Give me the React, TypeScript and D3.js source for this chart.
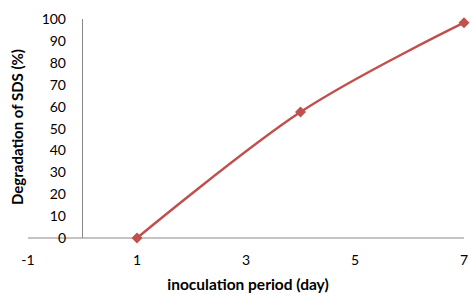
import React from "react";
import * as d3 from "d3";

const days = [1, 4, 7];
const degradation = [0, 57.5, 98.3];
const xTicks = [-1, 1, 3, 5, 7];
const yTicks = [0, 10, 20, 30, 40, 50, 60, 70, 80, 90, 100];

export default function App() {
  const W = 470, H = 294;
  const x = d3.scaleLinear().domain([-1, 7]).range([28, 464]);
  const y = d3.scaleLinear().domain([0, 100]).range([238, 19]);
  const pts: [number, number][] = days.map((d, i) => [x(d), y(degradation[i])]);
  const line = d3.line().curve(d3.curveCardinal.tension(0))(pts) || "";
  const font = "Lato, 'Open Sans', sans-serif";
  const color = "#C0504D";
  return (
    <svg width={W} height={H} style={{ position: "absolute", left: 0, top: 0, background: "#fff" }}>
      <line x1={x(0)} x2={x(0)} y1={y(100)} y2={y(0)} stroke="#888" strokeWidth={1} />
      <line x1={x(-1)} x2={x(7)} y1={y(0)} y2={y(0)} stroke="#888" strokeWidth={1} />
      {yTicks.map((t) => (
        <text key={t} x={66} y={y(t)} dy="0.36em" textAnchor="end" fontFamily={font} fontSize={14} fill="#000">
          {t}
        </text>
      ))}
      {xTicks.map((t) => (
        <text key={t} x={x(t)} y={265} textAnchor="middle" fontFamily={font} fontSize={14} fill="#000">
          {t}
        </text>
      ))}
      <text
        transform={`translate(23,127) rotate(-90)`}
        textAnchor="middle"
        fontFamily={font}
        fontSize={15}
        fontWeight="bold"
        fill="#000"
      >
        Degradation of  SDS (%)
      </text>
      <text x={248} y={290} textAnchor="middle" fontFamily={font} fontSize={15.5} fontWeight="bold" fill="#000">
        inoculation period (day)
      </text>
      <path d={line} fill="none" stroke={color} strokeWidth={2.5} />
      {pts.map(([px, py], i) => (
        <path key={i} d={`M${px},${py - 5.5}L${px + 5.5},${py}L${px},${py + 5.5}L${px - 5.5},${py}Z`} fill={color} />
      ))}
    </svg>
  );
}
